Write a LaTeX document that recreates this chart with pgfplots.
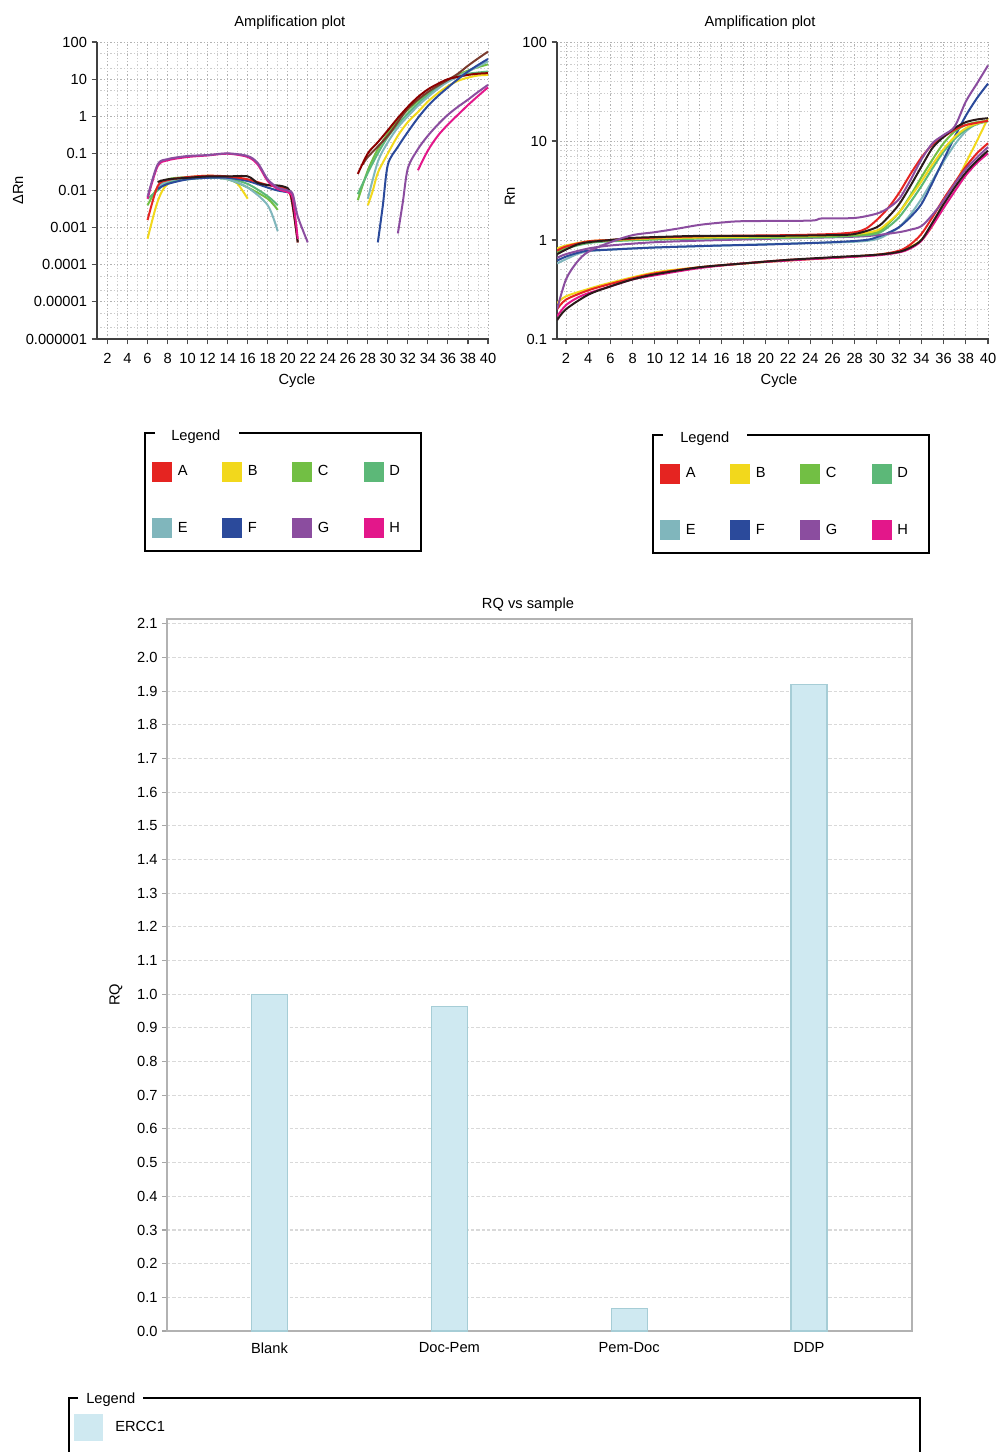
\documentclass[border=0pt]{standalone}
\usepackage{fontspec}
\setmainfont{Liberation Sans}
\usepackage{pgfplots}
\pgfplotsset{compat=1.18}
\newcommand\fs{\fontsize{11}{13}\selectfont}
\definecolor{cA}{HTML}{E52421}
\definecolor{cB}{HTML}{F2D81C}
\definecolor{cC}{HTML}{72BF44}
\definecolor{cD}{HTML}{5CB878}
\definecolor{cE}{HTML}{80B6BC}
\definecolor{cF}{HTML}{2B4A9B}
\definecolor{cG}{HTML}{8B4D9F}
\definecolor{cH}{HTML}{E3178A}
\definecolor{cK}{HTML}{2A1A1A}
\definecolor{cBr}{HTML}{7A3B2E}
\definecolor{barfill}{HTML}{CFE9F1}
\definecolor{baredge}{HTML}{A6CDD6}
\pgfplotsset{
  ampstyle/.style={
    scale only axis,
    axis x line*=bottom, axis y line*=left,
    axis line style={-, black!75, line width=1.2pt},
    tick align=outside, tick pos=left,
    major tick length=4pt, minor tick length=0pt,
    tick style={black!70, line width=0.8pt},
    xtick={2,4,...,40}, minor xtick={1,3,...,39},
    grid=both,
    major grid style={gray!60, dash pattern=on 1pt off 1.5pt, line width=0.6pt},
    minor grid style={gray!40, dash pattern=on 1pt off 1.5pt, line width=0.5pt},
    tick label style={font=\fs},
    xticklabel style={yshift=-3pt},
    label style={font=\fs},
    title style={font=\fs},
    /pgf/number format/assume math mode=true,
    legend image code/.code={\fill[##1] (0pt,-7.125pt) rectangle (14.25pt,7.125pt);},
    legend columns=4,
    legend cell align=left,
    legend style={draw=none, fill=none, inner sep=0pt, row sep=27.75pt, font=\fs,
      nodes={inner sep=0pt},
      /tikz/every odd column/.append style={column sep=4.5pt},
      /tikz/every even column/.append style={column sep=26pt}},
  },
  crv/.style={line width=1.5pt, smooth, forget plot},
}
\begin{document}
\begin{tikzpicture}
\useasboundingbox (0pt,0pt) rectangle (748.5pt,-1089pt);
% ---------------- top left -----------------
\begin{axis}[ampstyle, ymode=log,
  at={(72.75pt,-254.25pt)}, anchor=south west,
  width=294pt, height=222.75pt,
  xmin=0.95, xmax=40.1, ymin=1e-6, ymax=100,
  ytick={1e-6,1e-5,1e-4,1e-3,1e-2,1e-1,1,10,100},
  yticklabels={0.000001,0.00001,0.0001,0.001,0.01,0.1,1,10,100},
  minor ytick={2e-6,5e-6,2e-5,5e-5,2e-4,5e-4,2e-3,5e-3,2e-2,5e-2,0.2,0.5,2,5,20,50},
  title={Amplification plot},
  title style={at={(axis description cs:0.492,1)}, anchor=center, yshift=8.25pt},
  xlabel={Cycle},
  xlabel style={at={(axis description cs:0.51,0)}, anchor=center, yshift=-31.5pt},
  ylabel={ΔRn},
  ylabel style={at={(axis description cs:-0.2015,0.5)}, anchor=center},
  legend style={at={(axis description cs:0.1403,-0.4125)}, anchor=north west},
]
\addlegendimage{color=cA}\addlegendentry{A}
\addlegendimage{color=cB}\addlegendentry{B}
\addlegendimage{color=cC}\addlegendentry{C}
\addlegendimage{color=cD}\addlegendentry{D}
\addlegendimage{color=cE}\addlegendentry{E}
\addlegendimage{color=cF}\addlegendentry{F}
\addlegendimage{color=cG}\addlegendentry{G}
\addlegendimage{color=cH}\addlegendentry{H}
% early (noise) segments
\addplot[crv, cB] coordinates {(6,0.0005)(7,0.005)(8,0.015)(10,0.022)(12,0.025)(14,0.022)(15,0.015)(16,0.006)};
\addplot[crv, cC] coordinates {(6,0.004)(7,0.012)(8,0.02)(10,0.023)(12,0.023)(14,0.02)(16,0.012)(18,0.006)(19,0.003)};
\addplot[crv, cD] coordinates {(6,0.006)(7,0.01)(8,0.017)(10,0.02)(12,0.022)(14,0.021)(16,0.015)(18,0.007)(19,0.004)};
\addplot[crv, cE] coordinates {(7,0.012)(8,0.018)(10,0.022)(12,0.023)(14,0.02)(16,0.012)(18,0.004)(19,0.0008)};
\addplot[crv, cF] coordinates {(7,0.011)(8,0.015)(10,0.02)(12,0.022)(14,0.022)(16,0.018)(18,0.012)(19,0.01)(20,0.009)};
\addplot[crv, cA] coordinates {(6,0.0016)(7,0.013)(8,0.019)(10,0.023)(12,0.025)(14,0.024)(16,0.02)(18,0.014)(19.5,0.012)(20.3,0.007)(21,0.0004)};
\addplot[crv, cK] coordinates {(7,0.017)(8,0.02)(10,0.022)(12,0.024)(14,0.024)(16,0.024)(17,0.016)(18,0.014)(19.5,0.013)(20.3,0.008)(21,0.0004)};
\addplot[crv, cH] coordinates {(6,0.006)(7,0.045)(8,0.065)(10,0.08)(12,0.088)(14,0.098)(16,0.08)(17,0.05)(18,0.018)(19,0.011)(20,0.009)(20.5,0.006)(21,0.0005)};
\addplot[crv, cG] coordinates {(6,0.0068)(7,0.05)(8,0.07)(10,0.085)(12,0.09)(14,0.1)(16,0.085)(17,0.055)(18,0.02)(19,0.012)(20,0.01)(20.5,0.008)(21,0.002)(22,0.0004)};
% amplification segments
\addplot[crv, cB] coordinates {(28,0.004)(28.5,0.01)(29,0.03)(30,0.1)(31,0.3)(32,0.7)(33,1.3)(34,2.5)(35,4.2)(36,6.5)(37,9)(38,11)(39,12.5)(40,13)};
\addplot[crv, cC] coordinates {(27,0.0055)(28,0.035)(29,0.13)(30,0.35)(31,0.8)(32,1.5)(33,2.6)(34,4.2)(35,6.5)(36,9.5)(37,13)(38,17)(39,21)(40,25)};
\addplot[crv, cD] coordinates {(27,0.008)(28,0.03)(29,0.1)(30,0.28)(31,0.6)(32,1.2)(33,2.2)(34,3.8)(35,6)(36,9)(37,12)(38,14)(40,16)};
\addplot[crv, cE] coordinates {(28,0.006)(29,0.06)(30,0.2)(31,0.5)(32,1.0)(33,1.9)(34,3.3)(35,5.5)(36,8.5)(38,16)(40,30)};
\addplot[crv, cBr] coordinates {(27.5,0.05)(28,0.08)(30,0.3)(32,1.6)(34,4.5)(36,9.5)(37,14)(38,23)(39,36)(40,55)};
\addplot[crv, red!55!black] coordinates {(27,0.028)(28,0.1)(29,0.2)(30,0.42)(31,0.9)(32,1.8)(33,3.3)(34,5.3)(35,7.5)(36,10)(37,11.5)(38,13)(39,14)(40,14.5)};
\addplot[crv, cF] coordinates {(29,0.0004)(29.5,0.004)(30,0.05)(31,0.15)(32,0.38)(33,0.9)(34,1.9)(35,3.5)(36,6)(37,10)(38,16)(39,24)(40,35)};
\addplot[crv, cG] coordinates {(31,0.0007)(31.5,0.005)(32,0.04)(33,0.13)(34,0.3)(35,0.6)(36,1.1)(37,1.8)(38,2.8)(39,4.5)(40,7)};
\addplot[crv, cH] coordinates {(33,0.035)(34,0.12)(35,0.3)(36,0.6)(37,1.1)(38,2)(39,3.5)(40,6)};
\end{axis}
% ---------------- top right -----------------
\begin{axis}[ampstyle, ymode=log,
  at={(417.75pt,-254.25pt)}, anchor=south west,
  width=324pt, height=222.75pt,
  xmin=1.19, xmax=40.09, ymin=0.1, ymax=100,
  ytick={0.1,1,10,100},
  yticklabels={0.1,1,10,100},
  minor ytick={0.2,0.3,0.4,0.5,0.6,0.7,0.8,0.9,2,3,4,5,6,7,8,9,20,30,40,50,60,70,80,90},
  title={Amplification plot},
  title style={at={(axis description cs:0.47,1)}, anchor=center, yshift=8.25pt},
  xlabel={Cycle},
  xlabel style={at={(axis description cs:0.514,0)}, anchor=center, yshift=-31.5pt},
  ylabel={Rn},
  ylabel style={at={(axis description cs:-0.109,0.48)}, anchor=center},
  legend style={at={(axis description cs:0.2384,-0.4192)}, anchor=north west},
]
\addlegendimage{color=cA}\addlegendentry{A}
\addlegendimage{color=cB}\addlegendentry{B}
\addlegendimage{color=cC}\addlegendentry{C}
\addlegendimage{color=cD}\addlegendentry{D}
\addlegendimage{color=cE}\addlegendentry{E}
\addlegendimage{color=cF}\addlegendentry{F}
\addlegendimage{color=cG}\addlegendentry{G}
\addlegendimage{color=cH}\addlegendentry{H}
\addplot[crv, cB] coordinates {(1.2,0.23)(2,0.27)(4,0.32)(6,0.37)(10,0.47)(14,0.53)(20,0.6)(26,0.66)(30,0.71)(32,0.76)(33,0.85)(34,1.0)(35,1.4)(36,2.4)(37,3.6)(38,6)(39,10)(40,17)};
\addplot[crv, cA] coordinates {(1.2,0.2)(2,0.25)(4,0.31)(6,0.36)(8,0.41)(10,0.46)(14,0.53)(18,0.58)(22,0.63)(26,0.66)(30,0.71)(32,0.78)(33,0.9)(34,1.15)(35,1.7)(36,2.6)(37,3.8)(38,5.5)(39,7.5)(40,9.5)};
\addplot[crv, cH] coordinates {(1.2,0.17)(2,0.22)(3,0.26)(4,0.29)(6,0.34)(8,0.4)(10,0.44)(14,0.52)(18,0.58)(22,0.62)(26,0.66)(30,0.7)(32,0.75)(33,0.82)(34,0.98)(35,1.4)(36,2.1)(37,3.1)(38,4.5)(39,6)(40,7.5)};
\addplot[crv, cK] coordinates {(1.2,0.155)(2,0.2)(4,0.28)(6,0.34)(8,0.4)(10,0.45)(14,0.53)(18,0.58)(22,0.63)(26,0.67)(30,0.71)(32,0.76)(33,0.84)(34,1.0)(35,1.5)(36,2.3)(37,3.4)(38,4.8)(39,6.3)(40,8)};
\addplot[crv, cE] coordinates {(1.2,0.58)(2,0.64)(3,0.72)(4,0.77)(6,0.8)(10,0.84)(16,0.88)(22,0.92)(28,0.96)(30,1.02)(31,1.15)(32,1.35)(33,1.8)(34,2.6)(35,4.0)(36,6.2)(37,9.2)(38,12.5)(39,15)(40,16)};
\addplot[crv, cF] coordinates {(1.2,0.62)(2,0.68)(3,0.74)(4,0.78)(6,0.8)(10,0.84)(16,0.88)(20,0.9)(26,0.95)(29,1.0)(30,1.07)(31,1.18)(32,1.35)(33,1.7)(34,2.3)(35,3.8)(36,6.5)(37,11)(38,18)(39,27)(40,38)};
\addplot[crv, cG] coordinates {(1.2,0.66)(2,0.72)(4,0.82)(6,0.88)(10,0.95)(16,1.0)(22,1.04)(28,1.08)(30,1.12)(32,1.2)(33,1.27)(34,1.38)(35,1.8)(36,2.5)(37,3.7)(38,5.2)(39,6.8)(40,8.7)};
\addplot[crv, cD] coordinates {(1.2,0.74)(2,0.82)(4,0.93)(6,0.97)(10,1.01)(16,1.04)(24,1.06)(28,1.1)(30,1.16)(31,1.35)(32,1.7)(33,2.4)(34,3.5)(35,5.3)(36,7.8)(37,10.5)(38,13)(39,14.8)(40,15.8)};
\addplot[crv, cC] coordinates {(1.2,0.76)(2,0.84)(4,0.95)(6,0.99)(10,1.03)(16,1.06)(24,1.08)(28,1.12)(30,1.2)(31,1.45)(32,1.9)(33,2.8)(34,4.3)(35,6.5)(36,9.5)(37,12.5)(38,14.5)(39,15.5)(40,16)};
\addplot[crv, cB] coordinates {(1.2,0.82)(2,0.88)(4,0.97)(6,1.0)(10,1.04)(16,1.07)(24,1.1)(28,1.15)(30,1.25)(31,1.5)(32,1.9)(33,2.7)(34,3.9)(35,5.8)(36,8.3)(37,11)(38,13.5)(39,15)(40,16)};
\addplot[crv, cA] coordinates {(1.2,0.78)(2,0.86)(4,0.97)(6,1.0)(10,1.06)(16,1.1)(22,1.12)(26,1.15)(28,1.2)(29,1.3)(30,1.6)(31,2.1)(32,3.0)(33,4.6)(34,6.8)(35,9.2)(36,11)(37,13)(38,14.5)(40,16)};
\addplot[crv, cK] coordinates {(1.2,0.72)(2,0.8)(3,0.9)(4,0.95)(6,1.0)(8,1.05)(10,1.07)(14,1.1)(20,1.1)(26,1.12)(28,1.15)(30,1.35)(31,1.7)(32,2.3)(33,3.5)(34,5.5)(35,8.5)(36,11)(37,13.5)(38,15.5)(39,16.5)(40,17)};
\addplot[crv, cG] coordinates {(1.2,0.2)(2,0.4)(3,0.6)(4,0.76)(6,0.95)(8,1.12)(10,1.2)(12,1.3)(14,1.42)(16,1.5)(18,1.55)(24,1.57)(25,1.65)(28,1.67)(30,1.85)(31,2.1)(32,2.6)(33,4)(34,6.5)(35,9.5)(36,11.5)(37,14)(38,25)(39,38)(40,58)};
\end{axis}
% ---------------- bar chart -----------------
\begin{axis}[
  at={(125.25pt,-998.25pt)}, anchor=south west,
  scale only axis, width=558.75pt, height=534pt,
  xmin=-0.570, xmax=3.573, ymin=0, ymax=2.114,
  xtick={0,1,2,3}, xticklabels={Blank,Doc-Pem,Pem-Doc,DDP},
  ytick distance=0.1,
  yticklabel style={/pgf/number format/.cd, fixed, fixed zerofill, precision=1},
  /pgf/number format/assume math mode=true,
  tick label style={font=\fs},
  xticklabel style={yshift=-1.5pt},
  label style={font=\fs},
  title style={font=\fs},
  axis line style={gray!60, line width=1pt},
  tick align=outside, ytick pos=left,
  major tick length=3.5pt,
  ytick style={gray!70, line width=0.8pt},
  xtick style={draw=none},
  ymajorgrids,
  major grid style={gray!30, dash pattern=on 2.5pt off 1.5pt, line width=0.8pt},
  title={RQ vs sample},
  title style={at={(axis description cs:0.4846,1)}, anchor=center, yshift=4.5pt},
  ylabel={RQ},
  ylabel style={at={(axis description cs:-0.0685,0.472)}, anchor=center},
  legend image code/.code={\fill[#1] (0pt,-10.125pt) rectangle (21.75pt,10.125pt);},
  legend cell align=left,
  legend style={at={(axis description cs:-0.1248,-0.1166)}, anchor=north west,
    draw=none, fill=none, inner sep=0pt, font=\fs, nodes={inner sep=0pt},
    /tikz/every odd column/.append style={column sep=9pt}},
]
\addplot[forget plot, ybar, bar width=27pt, fill=barfill, draw=baredge, line width=0.8pt]
  coordinates {(0,1.0) (1,0.963) (2,0.068) (3,1.92)};
\addlegendimage{fill=barfill, draw=none}
\addlegendentry{ERCC1}
\end{axis}
% ---------------- legend frames -----------------
\begin{scope}[x=0.75pt, y=-0.75pt]
\draw[line width=1.9pt] (155,433) -- (145,433) -- (145,551) -- (421,551) -- (421,433) -- (239,433);
\node[anchor=west, inner sep=0pt, font=\fs] at (171,437) {Legend};
\draw[line width=1.9pt] (663,435) -- (653,435) -- (653,553) -- (929,553) -- (929,435) -- (747,435);
\node[anchor=west, inner sep=0pt, font=\fs] at (680,439) {Legend};
\draw[line width=1.9pt] (78,1398) -- (69,1398) -- (69,1470);
\draw[line width=1.9pt] (143,1398) -- (920,1398) -- (920,1470);
\node[anchor=west, inner sep=0pt, font=\fs] at (86,1400) {Legend};
\end{scope}
\end{tikzpicture}
\end{document}
